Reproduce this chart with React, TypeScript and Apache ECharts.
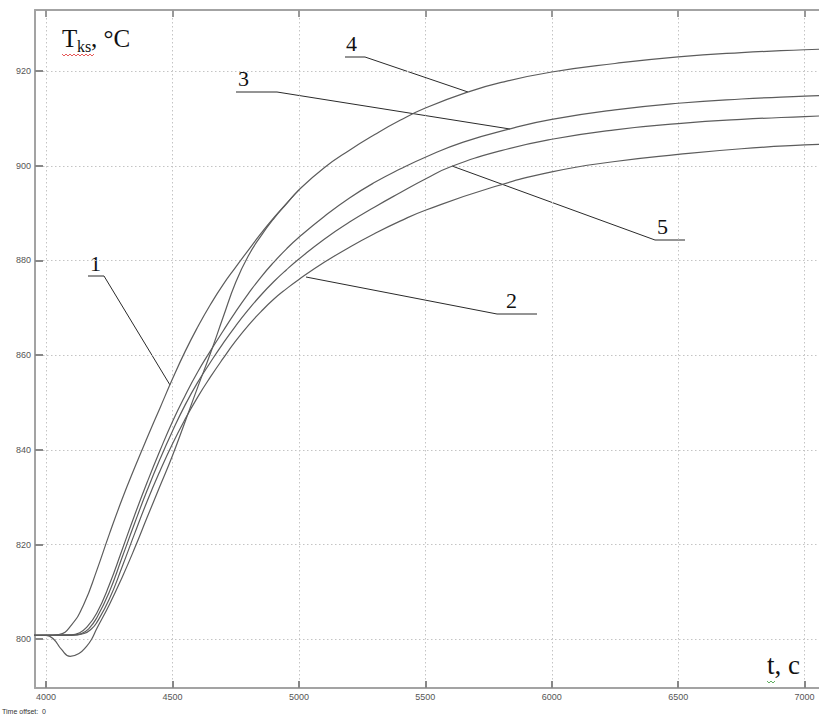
import React, { useEffect, useRef } from "react";
import * as echarts from "echarts";

// Time axis tick labels and temperature tick labels
const xTicks = [4000, 4500, 5000, 5500, 6000, 6500, 7000];
const yTicks = [800, 820, 840, 860, 880, 900, 920];

// Curve 1
const t1 = [3950, 4000, 4050, 4100, 4150, 4200, 4250, 4300, 4350, 4400, 4450, 4500, 4550, 4600, 4650, 4700, 4750, 4800, 4850, 4900, 4950, 5000];
const T1 = [800.8, 800.8, 801.0, 803.0, 807.5, 814.5, 822.2, 829.5, 836.2, 842.6, 848.8, 855.0, 860.8, 866.0, 870.7, 874.9, 878.6, 882.2, 885.7, 889.0, 892.0, 894.9];

// Curve 2
const t2 = [3950, 4100, 4150, 4180, 4200, 4250, 4300, 4350, 4400, 4450, 4500, 4550, 4600, 4650, 4700, 4750, 4800, 4850, 4900, 4950, 5000, 5100, 5200, 5300, 5400, 5500, 5750, 6000, 6250, 6500, 6750, 7000, 7100];
const T2 = [800.8, 800.8, 801.2, 802.2, 803.5, 808.5, 815.2, 822.3, 829.2, 835.5, 841.3, 846.5, 851.2, 855.4, 859.3, 863.0, 866.3, 869.2, 871.8, 874.0, 876.0, 879.6, 882.8, 885.7, 888.3, 890.6, 895.2, 898.7, 900.9, 902.4, 903.6, 904.4, 904.6];

// Curve 3
const t3 = [3950, 4100, 4130, 4160, 4200, 4250, 4300, 4350, 4400, 4450, 4500, 4550, 4600, 4650, 4700, 4750, 4800, 4850, 4900, 4950, 5000, 5100, 5200, 5300, 5400, 5500, 5650, 5850, 6000, 6250, 6500, 6750, 7000, 7100];
const T3 = [800.8, 800.9, 801.3, 802.5, 805.5, 811.5, 818.8, 826.2, 833.2, 839.8, 846.0, 851.5, 856.5, 860.9, 865.1, 869.2, 873.0, 876.5, 879.6, 882.4, 884.9, 889.3, 893.2, 896.5, 899.3, 901.8, 905.0, 908.0, 909.8, 911.8, 913.2, 914.1, 914.7, 914.9];

// Curve 4
const t4 = [3950, 4000, 4030, 4060, 4095, 4130, 4160, 4180, 4200, 4250, 4300, 4350, 4400, 4450, 4500, 4550, 4600, 4650, 4700, 4750, 4800, 4850, 4900, 4950, 5000, 5100, 5200, 5300, 5400, 5500, 5670, 5800, 6000, 6250, 6500, 6750, 7000, 7100];
const T4 = [800.8, 800.8, 800.0, 797.9, 796.4, 797.0, 798.5, 800.0, 802.2, 807.3, 813.0, 819.2, 825.8, 832.3, 838.8, 846.0, 853.3, 860.4, 868.0, 875.4, 881.0, 885.2, 888.8, 891.9, 894.9, 899.6, 903.3, 906.6, 909.6, 912.2, 915.6, 917.6, 919.8, 921.6, 923.0, 923.9, 924.5, 924.7];

// Curve 5
const t5 = [3950, 4100, 4140, 4170, 4200, 4250, 4300, 4350, 4400, 4450, 4500, 4550, 4600, 4650, 4700, 4750, 4800, 4850, 4900, 4950, 5000, 5100, 5200, 5300, 5400, 5500, 5600, 5800, 6000, 6250, 6500, 6750, 7000, 7100];
const T5 = [800.8, 800.9, 801.2, 802.3, 804.5, 810.0, 817.2, 824.5, 831.5, 838.0, 844.0, 849.5, 854.3, 858.5, 862.5, 866.2, 869.6, 872.7, 875.5, 878.0, 880.3, 884.5, 888.1, 891.3, 894.3, 897.2, 899.8, 903.2, 905.6, 907.6, 908.9, 909.8, 910.4, 910.6];

const seriesNames = ["1", "2", "3", "4", "5"];
const seriesT = [t1, t2, t3, t4, t5];
const seriesV = [T1, T2, T3, T4, T5];

const zip = (a: number[], b: number[]) => a.map((v, i) => [v, b[i]]);

export default function App() {
  const ref = useRef<HTMLDivElement>(null);
  useEffect(() => {
    if (!ref.current) return;
    const chart = echarts.init(ref.current, null, { renderer: "svg" });
    const axisColor = "#a3a3a3";
    const serif = "Liberation Serif";
    const leader = { stroke: "#2a2a2a", lineWidth: 1, fill: "none" };
    const numStyle = (x: number, y: number, t: string) => ({
      type: "text",
      x,
      y,
      style: { text: t, font: `22px "${serif}"`, fill: "#111", textAlign: "left", textVerticalAlign: "bottom" },
    });
    chart.setOption({
      animation: false,
      backgroundColor: "#fff",
      grid: { left: 35, top: 10, right: 0, bottom: 27, containLabel: false },
      xAxis: [
        {
          type: "value",
          min: 3956,
          max: 7057,
          axisLine: { show: true, onZero: false, lineStyle: { color: axisColor, width: 2 } },
          axisTick: { show: true, inside: true, length: 7, customValues: xTicks, lineStyle: { color: "#888", width: 2 } },
          axisLabel: { customValues: xTicks, color: "#555", fontSize: 9, fontFamily: "Liberation Sans", margin: 4, formatter: (v: number) => String(v) },
          splitLine: { show: true, lineStyle: { color: "#c4c4c4", type: [1.5, 2.5], width: 1 } },
        },
        {
          type: "value",
          position: "top",
          min: 3956,
          max: 7057,
          axisLine: { show: true, onZero: false, lineStyle: { color: axisColor, width: 2 } },
          axisTick: { show: true, inside: true, length: 7, customValues: xTicks, lineStyle: { color: "#999", width: 2 } },
          axisLabel: { show: false },
          splitLine: { show: false },
        },
      ],
      yAxis: {
        type: "value",
        min: 789.7,
        max: 932.9,
        axisLine: { show: true, onZero: false, lineStyle: { color: axisColor, width: 2 } },
        axisTick: { show: true, inside: true, length: 8, customValues: yTicks, lineStyle: { color: "#888", width: 2 } },
        axisLabel: { customValues: yTicks, color: "#555", fontSize: 9, fontFamily: "Liberation Sans", margin: 4, formatter: (v: number) => String(v) },
        splitLine: { show: true, lineStyle: { color: "#c4c4c4", type: [1.5, 2.5], width: 1 } },
      },
      series: seriesNames.map((n, i) => ({
        name: n,
        type: "line",
        xAxisIndex: 0,
        data: zip(seriesT[i], seriesV[i]),
        smooth: 0.5,
        showSymbol: false,
        symbol: "none",
        clip: true,
        lineStyle: { color: "#5c5c5c", width: 1.2 },
      })),
      graphic: [
        { type: "text", x: 62, y: 51, style: { text: "T", font: `25px "${serif}"`, fill: "#111", textVerticalAlign: "bottom" } },
        { type: "text", x: 77, y: 54, style: { text: "ks", font: `16px "${serif}"`, fill: "#111", textVerticalAlign: "bottom" } },
        { type: "text", x: 91, y: 51, style: { text: ", °C", font: `25px "${serif}"`, fill: "#111", textVerticalAlign: "bottom" } },
        {
          type: "polyline",
          shape: { points: [[62, 54], [64, 56], [66, 54], [68, 56], [70, 54], [72, 56], [74, 54], [76, 56], [78, 54], [80, 56], [82, 54], [84, 56], [86, 54], [88, 56], [90, 54], [92, 56], [94, 54]] },
          style: { stroke: "#e03030", lineWidth: 0.8, fill: "none" },
        },
        { type: "text", x: 767, y: 678, style: { text: "t, c", font: `27px "${serif}"`, fill: "#111", textVerticalAlign: "bottom" } },
        {
          type: "polyline",
          shape: { points: [[767, 681], [769, 683], [771, 681], [773, 683], [775, 681]] },
          style: { stroke: "#3a9a3a", lineWidth: 0.8, fill: "none" },
        },
        { type: "text", x: 2, y: 711, style: { text: "Time offset:  0", font: `7px "Liberation Sans"`, fill: "#333", textVerticalAlign: "middle" } },
        numStyle(90, 274, "1"),
        { type: "polyline", shape: { points: [[88, 276], [104, 276], [170, 385]] }, style: leader },
        numStyle(506, 311, "2"),
        { type: "polyline", shape: { points: [[537, 314], [497, 314], [306, 277]] }, style: leader },
        numStyle(238, 89, "3"),
        { type: "polyline", shape: { points: [[236, 92], [277, 92], [510, 129]] }, style: leader },
        numStyle(346, 54, "4"),
        { type: "polyline", shape: { points: [[345, 57], [365, 57], [468, 92]] }, style: leader },
        numStyle(657, 237, "5"),
        { type: "polyline", shape: { points: [[685, 240], [655, 240], [452, 166]] }, style: leader },
      ],
    });
    return () => chart.dispose();
  }, []);
  return <div ref={ref} style={{ position: "absolute", left: 0, top: 0, width: 819, height: 715 }} />;
}
